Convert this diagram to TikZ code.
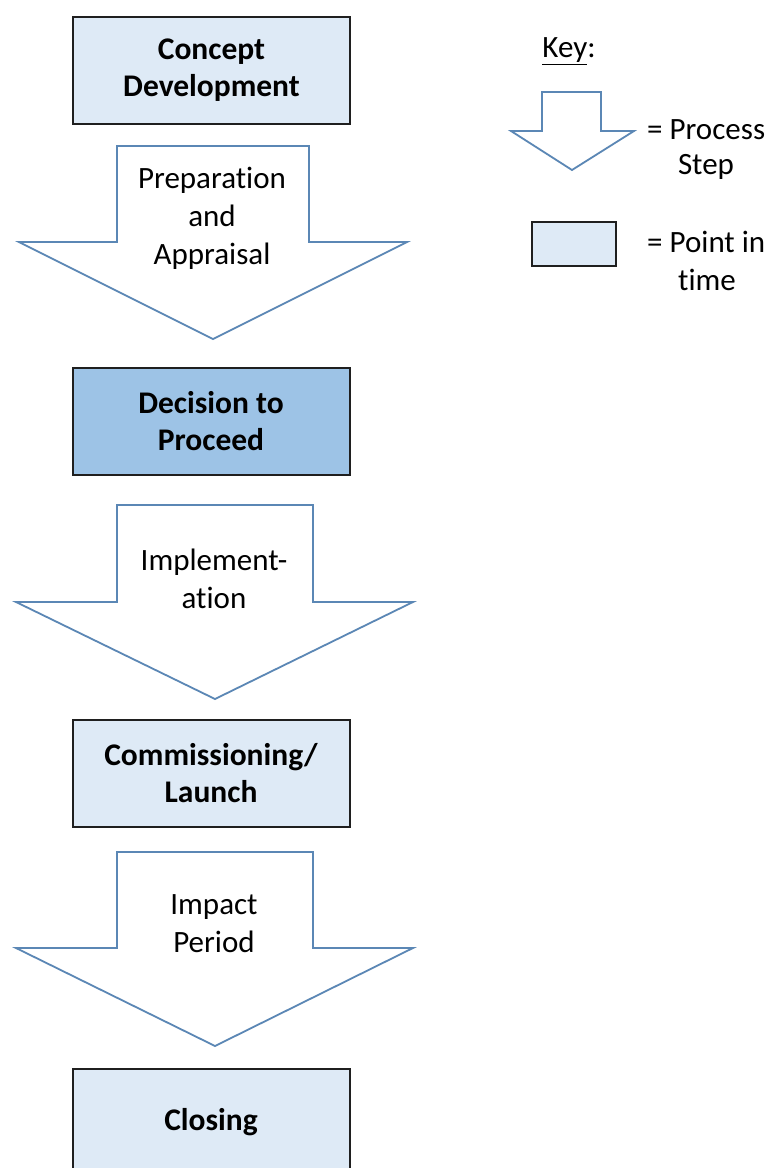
\documentclass[tikz,border=0pt]{standalone}
\usepackage{fontspec}
\setmainfont{Carlito}[Ligatures={NoCommon,NoRequired,NoContextual}]
\newcommand{\nolig}{\kern0pt{}}
\definecolor{boxlight}{HTML}{DEEAF6}
\definecolor{boxdark}{HTML}{9DC3E6}
\definecolor{arrowline}{HTML}{5B87B5}
\begin{document}
\begin{tikzpicture}[x=1pt,y=-1pt,
  timebox/.style={draw=black!88, line width=2pt, fill=boxlight, minimum width=277pt, minimum height=107pt,
    font=\bfseries\fontsize{31.5}{37}\selectfont, align=center, inner sep=0pt},
  stepshape/.style={draw=arrowline, line width=1.8pt, fill=white, line join=miter},
  lbl/.style={font=\fontsize{31}{38}\selectfont, align=center, inner sep=0pt}]
\useasboundingbox (0,0) rectangle (775,1168);
\clip (0,0) rectangle (775,1168);
\fill[white] (0,0) rectangle (775,1168);

% time points
\node[timebox] (cd) at (211.5,70.5) {Concept\\Development};
\node[timebox, fill=boxdark] (dp) at (211,421.5) {Decision to\\Proceed};
\node[timebox] (cl) at (211,773.5) {Commissioning/\\Launch};
\node[timebox] (clo) at (211,1122.5) {Closing};

% process steps
\draw[stepshape] (117,146) -- (309,146) -- (309,242) -- (407,242) -- (213,339) -- (19,242) -- (117,242) -- cycle;
\node[lbl] (pa) at (212,218) {Preparat\nolig ion\\and\\Appraisal};

\draw[stepshape] (117,505) -- (313,505) -- (313,602) -- (413,602) -- (215,699) -- (16,602) -- (117,602) -- cycle;
\node[lbl] (im) at (214,579) {Implement-\\at\nolig ion};

\draw[stepshape] (117,852) -- (313,852) -- (313,948) -- (413,948) -- (215,1046) -- (16,948) -- (117,948) -- cycle;
\node[lbl] (ip) at (214,924) {Impact\\Period};

% key
\node[lbl] (key) at (569,51) {\underline{Key}:};
\draw[stepshape] (542,92) -- (601,92) -- (601,131) -- (634,131) -- (572,170) -- (511,131) -- (542,131) -- cycle;
\node[lbl, anchor=west] (kp) at (647,130) {= Process};
\node[lbl] (ks) at (706,167) {Step};
\node[draw=black!88, line width=2pt, fill=boxlight, minimum width=84pt, minimum height=44pt, inner sep=0pt] (kbox) at (574,244) {};
\node[lbl, anchor=west] (kpt) at (647,242) {= Point in};
\node[lbl] (kt) at (707,280) {t\nolig ime};
\end{tikzpicture}
\end{document}
